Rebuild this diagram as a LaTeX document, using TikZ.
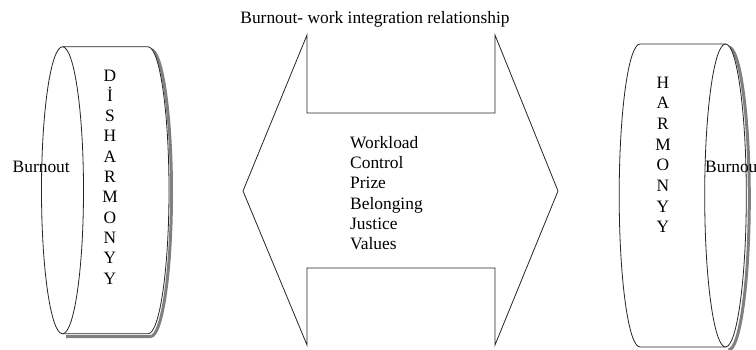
\documentclass[tikz,border=0pt]{standalone}
\usepackage{fontspec}
\setmainfont{Liberation Serif}
\begin{document}
\begin{tikzpicture}[x=1pt,y=-1pt,
  outline/.style={draw=black!85,line width=0.8pt},
  shade3/.style={draw=black!50,line width=3pt},
  txt/.style={inner sep=0pt,font=\fontsize{17.4}{20.3}\selectfont},
  letter/.style={txt,anchor=base}]
\useasboundingbox (0,0) rectangle (756,349);
\clip (0,0) rectangle (756,349);
\fill[white] (0,0) rectangle (756,349);
% ---- title
\node[txt,anchor=base] (title) at (375,23.5) {Burnout- work integration relationship};
% ---- double arrow
\coordinate (a1) at (307,35);
\coordinate (a2) at (307,113);
\coordinate (a3) at (495,113);
\coordinate (a4) at (495,35);
\coordinate (tipR) at (558,191);
\coordinate (a5) at (495,345);
\coordinate (a6) at (495,268);
\coordinate (a7) at (307,268);
\coordinate (a8) at (307,345);
\coordinate (tipL) at (243,191);
\draw[outline,line join=miter] (a1) -- (a2) -- (a3) -- (a4) -- (tipR) -- (a5) -- (a6) -- (a7) -- (a8) -- (tipL) -- cycle;
\foreach \w [count=\i] in {Workload,Control,Prize,Belonging,Justice,Values}
  \node[txt,anchor=base west] (f\i) at (350,{148.5+20.2*(\i-1)}) {\w};
% ---- left cylinder (Disharmony)
\draw[shade3] (150.5,49.5) arc (-90:90:21 and 143.5) -- (66,336.5);
\draw[outline,fill=white] (62.5,46.8) -- (148,46.8) arc (-90:90:21 and 143.5) -- (62.5,333.8);
\draw[outline,fill=white] (62.5,190.3) ellipse (21 and 143.5);
\node[txt,anchor=west] (bl) at (12.5,167) {Burnout};
\foreach \l [count=\i] in {D,İ,S,H,A,R,M,O,N,Y,Y}
  \node[letter] (d\i) at (110,{81+20.3*(\i-1)}) {\l};
% ---- right cylinder (Harmony)
\draw[shade3] (728.5,47) arc (-90:90:20.8 and 151.5);
\draw[outline,fill=white] (725.5,44) -- (640,44) arc (-90:-270:20.8 and 151.5) -- (725.5,347);
\draw[outline,fill=white] (725.5,195.5) ellipse (20.8 and 151.5);
\node[txt,anchor=west] (br) at (705,166.5) {Burnout};
\foreach \l [count=\i] in {H,A,R,M,O,N,Y,Y}
  \node[letter] (h\i) at (663,{88+20.7*(\i-1)}) {\l};
\end{tikzpicture}
\end{document}
